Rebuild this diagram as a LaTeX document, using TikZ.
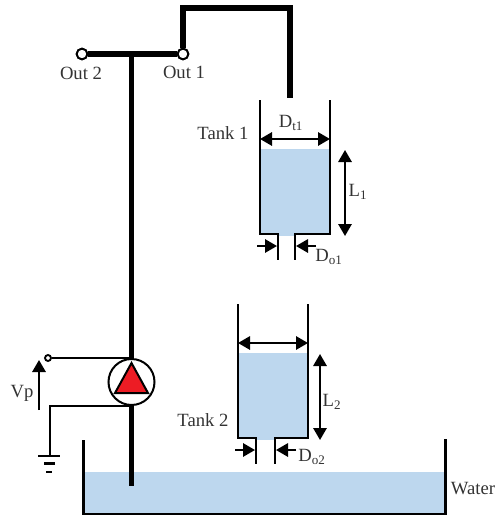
\documentclass[tikz,border=0pt]{standalone}
\usepackage{fontspec}
\setmainfont{Liberation Serif}
\usepackage{xcolor}
\usetikzlibrary{arrows.meta, positioning}
\definecolor{waterblue}{HTML}{BDD7EE}
\definecolor{pumpred}{HTML}{ED1C24}
\definecolor{labelgray}{HTML}{333333}
\tikzset{
  pipe/.style={line width=3.9pt, line join=miter},
  wall/.style={line width=1.8pt, line join=miter},
  wire/.style={line width=1.5pt, line join=miter},
  dim/.style={line width=1.5pt, -{Triangle[length=9pt,width=10pt]}},
  dimboth/.style={line width=1.5pt, {Triangle[length=9pt,width=10pt]}-{Triangle[length=9pt,width=10pt]}},
  lbl/.style={font=\fontsize{14}{16}\selectfont, text=labelgray, inner sep=0pt},
  terminal/.style={circle, draw, fill=white, line width=1.4pt, inner sep=0pt, minimum size=#1},
}
\begin{document}
\begin{tikzpicture}[x=0.75pt, y=-0.75pt]
  \useasboundingbox (0,0) rectangle (496,517);
  % basin water
  \fill[waterblue] (83.5,472) rectangle (445.5,514);
  % tanks
  \foreach \n/\tx/\ty/\lx/\ow in {1/260/100/85/17,2/238/304/82/19}{
    \begin{scope}[shift={(\tx,\ty)}]
      \fill[waterblue] (0,49) rectangle (70,134);
      \fill[waterblue] (18,134) rectangle (18+\ow,136);
      \coordinate (tankTL\n) at (0,0);
      \coordinate (tankTR\n) at (70,0);
      \coordinate (tankBL\n) at (0,134);
      \coordinate (tankBR\n) at (70,134);
      \coordinate (outL\n) at (18,160);
      \coordinate (outR\n) at (18+\ow,160);
      \draw[wall] (tankTL\n) -- (tankBL\n) -- (18,134) -- (outL\n);
      \draw[wall] (tankTR\n) -- (tankBR\n) -- (18+\ow,134) -- (outR\n);
      \draw[dimboth] (tankTL\n |- 0,39) -- (tankTR\n |- 0,39);
      \draw[dimboth] (\lx,50) -- (\lx,136);
      \draw[dim] (-3,146) -- (17,146);
      \draw[dim] (39+\ow,146) -- (19+\ow,146);
    \end{scope}
  }
  % pump and pipes
  \node[circle, draw, fill=white, line width=1.5pt, minimum size=34.5pt, inner sep=0pt] (pump) at (131.5,382) {};
  \coordinate (pipeend) at (131.5,486);
  \coordinate (tee) at (131.5,54);
  \node[terminal=8pt] (out2) at (82,54) {};
  \node[terminal=8pt] (out1) at (183,54) {};
  \coordinate (cornerA) at (183,8);
  \coordinate (cornerB) at (290,8);
  \coordinate (tankinlet) at (290,98);
  \draw[pipe] (pump.north) -- (tee);
  \draw[pipe] (pump.south) -- (pipeend);
  \draw[pipe] (out2) -- (out1);
  \draw[pipe] (out1) -- (cornerA) -- (cornerB) -- (tankinlet);
  \node[terminal=8pt] at (out2) {};
  \node[terminal=8pt] at (out1) {};
  \filldraw[fill=pumpred, line width=1.5pt, line join=miter] (131.5,363) -- (115,393) -- (148,393) -- cycle;
  % basin
  \draw[wall] (83.5,440) -- (83.5,514) -- (445.5,514) -- (445.5,439);
  % wiring
  \node[terminal=4.5pt] (vpin) at (48,358) {};
  \coordinate (gnd) at (50,456);
  \draw[wire] (vpin) -- (vpin -| pump.north);
  \draw[wire] (pump.south) -| (gnd);
  \draw[line width=1.6pt] (38,456) -- (60,456);
  \draw[line width=1.6pt] (44,463.5) -- (55,463.5);
  \draw[line width=1.6pt] (46,472) -- (52,472);
  \draw[dim] (39,410) -- (39,360);
  % labels
  \node[lbl] (lblout2) at (81,73) {Out 2};
  \node[lbl] (lblout1) at (184,72) {Out 1};
  \node[lbl] (lblvp) at (22,393) {Vp};
  \node[lbl] (lbltank1) at (223,133) {Tank 1};
  \node[lbl] (lbltank2) at (203,420) {Tank 2};
  \node[lbl] (lbldt1) at (291,123) {D\textsubscript{t1}};
  \node[lbl] (lbll1) at (358,192) {L\textsubscript{1}};
  \node[lbl] (lbldo1) at (329,257) {D\textsubscript{o1}};
  \node[lbl] (lbll2) at (332,402) {L\textsubscript{2}};
  \node[lbl] (lbldo2) at (312,457) {D\textsubscript{o2}};
  \node[lbl] (lblwater) at (473,489) {Water};
\end{tikzpicture}
\end{document}
